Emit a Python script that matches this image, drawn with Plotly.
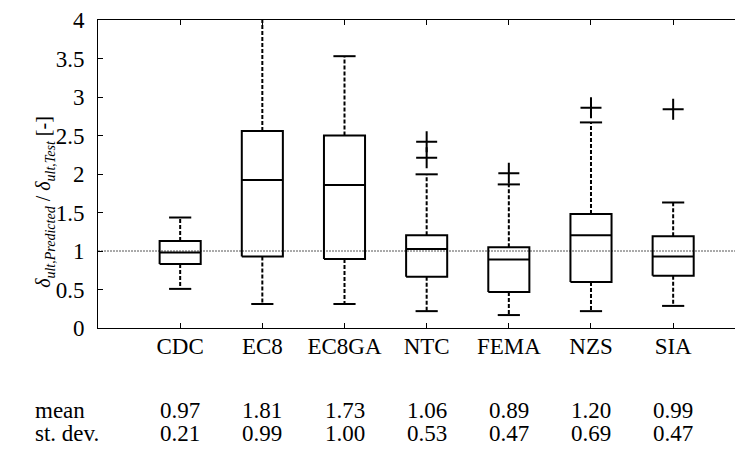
import plotly.graph_objects as go

codes = ["CDC", "EC8", "EC8GA", "NTC", "FEMA", "NZS", "SIA"]
q1 = [0.83, 0.93, 0.895, 0.666, 0.466, 0.597, 0.679]
median = [0.98, 1.923, 1.856, 1.027, 0.89, 1.205, 0.929]
q3 = [1.129, 2.557, 2.50, 1.205, 1.048, 1.482, 1.193]
whisk_lo = [0.508, 0.312, 0.312, 0.219, 0.168, 0.219, 0.287]
whisk_hi = [1.435, 4.4, 3.53, 1.996, 1.865, 2.67, 1.63]
outliers = [[], [], [], [2.21, 2.42], [2.01], [2.86], [2.84]]
mean_vals = ["0.97", "1.81", "1.73", "1.06", "0.89", "1.20", "0.99"]
std_vals = ["0.21", "0.99", "1.00", "0.53", "0.47", "0.69", "0.47"]
y_ticks = [0, 0.5, 1, 1.5, 2, 2.5, 3, 3.5, 4]
y_ticktext = ["0", "0.5", "1", "1.5", "2", "2.5", "3", "3.5", "4"]

FONT = "Liberation Serif"
FS = 23
BW = 0.25   # half box width
CW = 0.135  # half cap width
LW = 2

fig = go.Figure()

# reference line at 1
fig.add_trace(go.Scatter(x=[0, 8], y=[1, 1], mode="lines",
                         line=dict(color="#555555", width=1, dash="2px,1px"),
                         hoverinfo="skip", showlegend=False))

for i, name in enumerate(codes):
    x = i + 1
    # whiskers (dashed)
    fig.add_trace(go.Scatter(x=[x, x, None, x, x],
                             y=[q3[i], whisk_hi[i], None, q1[i], whisk_lo[i]],
                             mode="lines", line=dict(color="black", width=LW, dash="4px,2px"),
                             hoverinfo="skip", showlegend=False))
    # caps
    fig.add_trace(go.Scatter(x=[x - CW, x + CW, None, x - CW, x + CW],
                             y=[whisk_hi[i], whisk_hi[i], None, whisk_lo[i], whisk_lo[i]],
                             mode="lines", line=dict(color="black", width=LW),
                             hoverinfo="skip", showlegend=False))
    # box
    fig.add_trace(go.Scatter(x=[x - BW, x + BW, x + BW, x - BW, x - BW, None, x - BW, x + BW],
                             y=[q1[i], q1[i], q3[i], q3[i], q1[i], None, median[i], median[i]],
                             mode="lines", line=dict(color="black", width=LW),
                             hoverinfo="skip", showlegend=False))
    # outliers
    if outliers[i]:
        fig.add_trace(go.Scatter(x=[x] * len(outliers[i]), y=outliers[i], mode="markers",
                                 marker=dict(symbol="cross-thin", size=15,
                                             line=dict(color="black", width=LW)),
                                 hoverinfo="skip", showlegend=False))

annotations = []
for i in range(len(codes)):
    annotations.append(dict(x=i + 1, y=-0.267, xref="x", yref="paper", text=mean_vals[i],
                            showarrow=False, font=dict(family=FONT, size=FS, color="black"),
                            xanchor="center", yanchor="middle"))
    annotations.append(dict(x=i + 1, y=-0.343, xref="x", yref="paper", text=std_vals[i],
                            showarrow=False, font=dict(family=FONT, size=FS, color="black"),
                            xanchor="center", yanchor="middle"))
annotations.append(dict(x=-0.1008, y=-0.267, xref="paper", yref="paper", text="mean",
                        showarrow=False, font=dict(family=FONT, size=FS, color="black"),
                        xanchor="left", yanchor="middle"))
annotations.append(dict(x=-0.1008, y=-0.343, xref="paper", yref="paper", text="st. dev.",
                        showarrow=False, font=dict(family=FONT, size=FS, color="black"),
                        xanchor="left", yanchor="middle"))
annotations.append(dict(x=-0.082, y=0.41, xref="paper", yref="paper", textangle=-90,
                        text="<i>δ</i><sub><i>ult,Predicted</i></sub> / <i>δ</i><sub><i>ult,Test</i></sub> [-]",
                        showarrow=False, font=dict(family=FONT, size=20, color="black"),
                        xanchor="center", yanchor="middle"))

# the page body adds an 8px offset; the figure is sized/shifted to compensate
fig.update_layout(
    width=735, height=443,
    margin=dict(l=90, r=0, t=7, b=123),
    paper_bgcolor="white", plot_bgcolor="white",
    showlegend=False,
    annotations=annotations,
    xaxis=dict(range=[0, 7.85], tickvals=[1, 2, 3, 4, 5, 6, 7], ticktext=codes,
               ticks="inside", ticklen=5, tickwidth=1, tickcolor="black",
               showline=True, linecolor="black", linewidth=1, mirror="ticks",
               showgrid=False, zeroline=False,
               tickfont=dict(family=FONT, size=FS, color="black"),
               ticklabelstandoff=-3, ticklabeloverflow="allow"),
    yaxis=dict(range=[0, 4], tickvals=y_ticks, ticktext=y_ticktext,
               ticks="inside", ticklen=5, tickwidth=1, tickcolor="black",
               showline=True, linecolor="black", linewidth=1,
               showgrid=False, zeroline=False,
               tickfont=dict(family=FONT, size=FS, color="black"),
               ticklabelstandoff=8, ticklabeloverflow="allow"),
)

fig.write_html("out.html")
